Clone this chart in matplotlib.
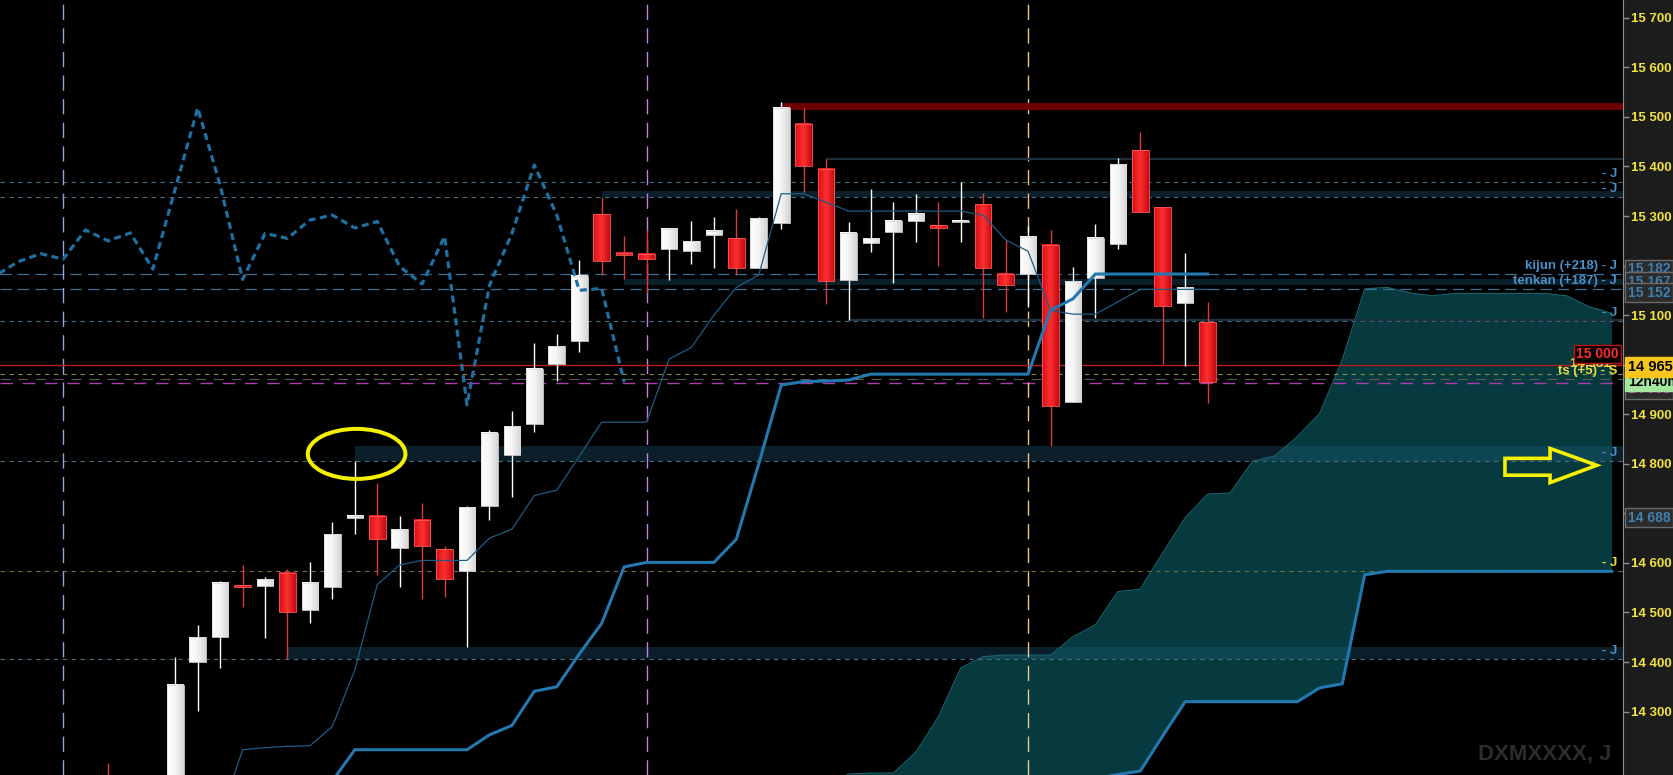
import numpy as np
import matplotlib
matplotlib.use('Agg')
import matplotlib.pyplot as plt
from matplotlib.patches import Rectangle, Ellipse, Polygon
from matplotlib.colors import LinearSegmentedColormap
from matplotlib.ticker import FuncFormatter

plt.rcParams['font.family'] = ['Liberation Sans', 'DejaVu Sans']
plt.rcParams['font.weight'] = 'bold'

# ---- candles (one per bar, index 0..49) ----
opens = [14160, 14120, 14120, 14150, 14401, 14451, 14556, 14554, 14580, 14504,
         14552, 14690, 14695, 14631, 14687, 14628, 14583, 14715, 14818, 14880,
         15002, 15047, 15304, 15226, 15224, 15233, 15230, 15261, 15255, 15196,
         15285, 15486, 15395, 15170, 15246, 15268, 15289, 15281, 15287, 15324,
         15183, 15183, 15242, 14925, 15174, 15244, 15433, 15318, 15124, 15086]
highs = [14196, 14150, 14168, 14410, 14475, 14563, 14596, 14572, 14588, 14602,
         14683, 14806, 14761, 14695, 14721, 14634, 14715, 14868, 14907, 15043,
         15062, 15211, 15339, 15259, 15272, 15276, 15290, 15299, 15314, 15299,
         15530, 15518, 15415, 15287, 15355, 15328, 15345, 15328, 15369, 15346,
         15252, 15279, 15272, 15197, 15284, 15417, 15469, 15318, 15226, 15127]
lows = [14100, 14080, 14100, 14100, 14302, 14388, 14512, 14449, 14406, 14479,
        14527, 14658, 14576, 14551, 14527, 14531, 14430, 14686, 14734, 14864,
        14968, 15026, 15181, 15173, 15145, 15171, 15204, 15196, 15182, 15196,
        15274, 15349, 15122, 15090, 15228, 15164, 15248, 15200, 15248, 15094,
        15106, 15117, 14835, 14924, 15094, 15233, 15308, 15002, 14998, 14922]
closes = [14120, 14140, 14160, 14354, 14451, 14560, 14552, 14568, 14500, 14560,
          14658, 14695, 14648, 14668, 14634, 14568, 14712, 14863, 14876, 14991,
          15037, 15179, 15210, 15221, 15213, 15274, 15250, 15270, 15195, 15296,
          15518, 15400, 15168, 15265, 15255, 15291, 15304, 15275, 15291, 15196,
          15160, 15258, 14917, 15169, 15256, 15405, 15309, 15119, 15156, 14965]

# ---- ichimoku lines ----
tenkan_x = list(range(5, 50))
tenkan = [14090, 14223, 14227, 14230, 14231, 14270, 14384, 14556, 14596, 14605,
          14605, 14605, 14650, 14668, 14736, 14747, 14815, 14884, 14884, 14884,
          15011, 15035, 15100, 15156, 15181, 15345, 15345, 15328, 15310, 15310,
          15310, 15310, 15310, 15310, 15302, 15252, 15229, 15110, 15102, 15102,
          15127, 15152, 15152, 15152, 15152]
kijun_x = list(range(10, 50))
kijun = [14160, 14223, 14223, 14223, 14223, 14223, 14223, 14253, 14272, 14341,
         14350, 14416, 14478, 14592, 14601, 14601, 14601, 14601, 14648, 14800,
         14959, 14966, 14967, 14969, 14981, 14981, 14981, 14981, 14981, 14981,
         14981, 14981, 15110, 15133, 15183, 15183, 15183, 15183, 15183, 15183]
chikou_x = list(range(-5, 24))
chikou = [15180, 15208, 15224, 15213, 15272, 15250, 15266, 15193, 15355, 15518,
          15362, 15172, 15265, 15255, 15292, 15302, 15276, 15289, 15198, 15163,
          15259, 14919, 15160, 15265, 15403, 15302, 15150, 15154, 14965]
cloud_x = list(range(32, 68))
span_a = [14150, 14174, 14176, 14176, 14218, 14289, 14388, 14411, 14414, 14414,
          14414, 14451, 14475, 14542, 14547, 14620, 14691, 14739, 14741, 14805,
          14816, 14855, 14902, 15010, 15153, 15156, 15145, 15139, 15144, 15144,
          15144, 15144, 15144, 15139, 15117, 15104]
span_b = [14150] * 12 + [14165, 14173, 14180, 14251, 14320,
                         14320, 14320, 14320, 14320, 14320,
                         14348, 14356, 14576] + [14583] * 11

yticks = [14300, 14400, 14500, 14600, 14700, 14800, 14900, 15000,
          15100, 15200, 15300, 15400, 15500, 15600, 15700]

# zones: (first bar, low, high)
zones = [(22, 15338, 15350), (23, 15160, 15172), (11, 14806, 14836), (8, 14406, 14430)]

W, H = 1673, 775
AX_W = 1623
XMIN, XMAX = -4.81, 67.51

fig = plt.figure(figsize=(W / 100, H / 100), dpi=100, facecolor='#1c1c1c')
ax = fig.add_axes([0, 0, AX_W / W, 1])
ax.set_facecolor('black')

# cloud
ax.fill_between(cloud_x, span_a, span_b, color='#063a3f', lw=0, zorder=1)
ax.plot(cloud_x, span_a, color='#1b6870', lw=0.8, zorder=1.2)

# zones
for x0, lo, hi in zones:
    ax.add_patch(Rectangle((x0, lo), XMAX - x0, hi - lo, facecolor=(0.13, 0.38, 0.50),
                           alpha=0.33, lw=0, zorder=1.5))

# horizontal levels
for lvl in [15368, 15338, 15088, 14806, 14406]:
    ax.axhline(lvl, color='#4c6a80', lw=0.8, dashes=(4, 4), zorder=1.8)
for lvl in [15183, 15152]:
    ax.axhline(lvl, color='#3d6f94', lw=0.9, dashes=(9, 5), zorder=1.8)
ax.axhline(15000, color='#b81d1d', lw=1, zorder=1.9)
ax.axhline(14981, color='#8a8a48', lw=0.8, dashes=(4, 4), zorder=1.8)
ax.axhline(14971, color='#5a5a5a', lw=0.8, dashes=(9, 7), zorder=1.8)
ax.axhline(14964, color='#b03ab0', lw=1, dashes=(9, 7), zorder=1.8)
ax.axhline(14584, color='#6f6f4a', lw=0.8, dashes=(4, 4), zorder=1.8)

# vertical markers
for xv, col in [(-2, '#8fa5e0'), (24, '#c77fe0'), (41, '#f3c48a')]:
    ax.axvline(xv, color=col, lw=1, dashes=(11, 6), zorder=1.8)

# resistance and range lines
ax.hlines(15523, 30, XMAX, color='#6e0000', lw=5, zorder=2)
ax.hlines(15415, 32, XMAX, color='#1e2f3d', lw=1.6, zorder=2)
ax.hlines(15090, 33, XMAX, color='#1e2f3d', lw=1.6, zorder=2)

# candles with a light horizontal shading on the bodies
white_cm = LinearSegmentedColormap.from_list('w', ['#ffffff', '#f4f4f4', '#d6d6d6'])
red_cm = LinearSegmentedColormap.from_list('r', ['#d81018', '#ff3030', '#c40c14'])
grad = np.linspace(0, 1, 24).reshape(1, -1)
bw = 0.74
for i, (o, h, l, c) in enumerate(zip(opens, highs, lows, closes)):
    up = c >= o
    lo = min(o, c)
    hgt = max(abs(c - o), 4)
    ax.vlines(i, l, h, color='white' if up else '#e03a3a', lw=1, zorder=2.4)
    ax.imshow(grad, cmap=white_cm if up else red_cm, aspect='auto', interpolation='bilinear',
              extent=(i - bw / 2, i + bw / 2, lo, lo + hgt), zorder=2.5)
    ax.add_patch(Rectangle((i - bw / 2, lo), bw, hgt, fill=False,
                           ec='#d8d8d8' if up else '#ff5a5a', lw=0.6, zorder=2.6))

# ichimoku lines on top
ax.plot(tenkan_x, tenkan, color='#1d5c85', lw=0.9, zorder=3)
ax.plot(kijun_x, kijun, color='#2378b0', lw=2.2, zorder=3)
ax.plot(cloud_x, span_b, color='#2378b0', lw=2.2, zorder=3)
ax.plot(chikou_x, chikou, color='#1f6fa0', lw=2.3, ls=(0, (2.2, 1.4)), zorder=3)

# annotations
ax.add_patch(Ellipse((11.08, 14820), 4.35, 101, fill=False, ec='#f5ef00', lw=2.9, zorder=5))
ax.add_patch(Polygon([(62.25, 14811), (64.26, 14811), (64.26, 14831), (66.34, 14797),
                      (64.26, 14762), (64.26, 14777), (62.25, 14777)],
                     closed=True, fill=False, ec='#f5ef00', lw=2.6, zorder=5))

ax.set_xlim(XMIN, XMAX)
ax.set_ylim(14172, 15736)

# axis styling
for s in ['top', 'bottom', 'left']:
    ax.spines[s].set_visible(False)
ax.spines['right'].set_color('#8c8c8c')
ax.set_xticks([])
ax.yaxis.tick_right()
ax.set_yticks(yticks)
ax.yaxis.set_major_formatter(FuncFormatter(lambda v, p: f"{int(v):,}".replace(",", " ")))
ax.tick_params(axis='y', colors='#8c8c8c', length=4, width=1, labelcolor='#f2e33c',
               labelsize=9.5, pad=2)

tr = ax.get_yaxis_transform()
xr = 1617 / AX_W
blue = '#4a90c8'
for txt, lvl, col in [("- J", 15368, blue), ("- J", 15338, blue),
                      ("kijun (+218) - J", 15183, blue), ("tenkan (+187) - J", 15152, blue),
                      ("- J", 15088, blue), ("- J", 14806, blue),
                      ("- J", 14584, '#e8e040'), ("- J", 14406, blue)]:
    ax.text(xr, lvl + 4, txt, transform=tr, ha='right', va='bottom', color=col,
            fontsize=9.5, zorder=6)

# price flags at the right edge of the plot
ax.text(1610 / AX_W, 15002, "14 981", transform=tr, ha='right', va='center',
        color='#e8e040', fontsize=9.5, zorder=6)
ax.text(1619 / AX_W, 15021, "15 000", transform=tr, ha='right', va='center',
        color='#ff2a2a', fontsize=10, zorder=7,
        bbox=dict(boxstyle='square,pad=0.15', fc='black', ec='#c01010', lw=1))
ax.text(xr, 14987, "ts (+5) - S", transform=tr, ha='right', va='center',
        color='#e8e040', fontsize=9.5, zorder=8)

# value boxes on the price scale
xb = 1628 / AX_W
box_gray = dict(boxstyle='square,pad=0.18', fc='#2b2b2b', ec='#6a6a6a', lw=1)
for txt, yv in [("15 182", 15193), ("15 167", 15167), ("15 152", 15145), ("14 688", 14691)]:
    ax.text(xb, yv, txt, transform=tr, ha='left', va='center', color='#3f7fb0',
            fontsize=10, zorder=7, clip_on=False, bbox=box_gray)
ax.text(xb, 14950, "14 963", transform=tr, ha='left', va='center', color='#c040c0',
        fontsize=10, zorder=7, clip_on=False,
        bbox=dict(boxstyle='square,pad=0.18', fc='#2b2b2b', ec='#6a6a6a', lw=1))
ax.text(xb, 14966, "12h40m", transform=tr, ha='left', va='center', color='black',
        fontsize=10, zorder=8, clip_on=False,
        bbox=dict(boxstyle='square,pad=0.18', fc='#a5e6a0', ec='#a5e6a0', lw=1))
ax.text(xb, 14996, "14 965", transform=tr, ha='left', va='center', color='black',
        fontsize=10.5, zorder=9, clip_on=False,
        bbox=dict(boxstyle='square,pad=0.2', fc='#f7c51c', ec='#f7c51c', lw=1))

# watermark
ax.text(1612 / AX_W, 14214, "DXMXXXX, J", transform=tr, ha='right', va='center',
        color='#2c2c2c', fontsize=16, zorder=6)

fig.savefig('out.png', dpi=100, facecolor=fig.get_facecolor())
